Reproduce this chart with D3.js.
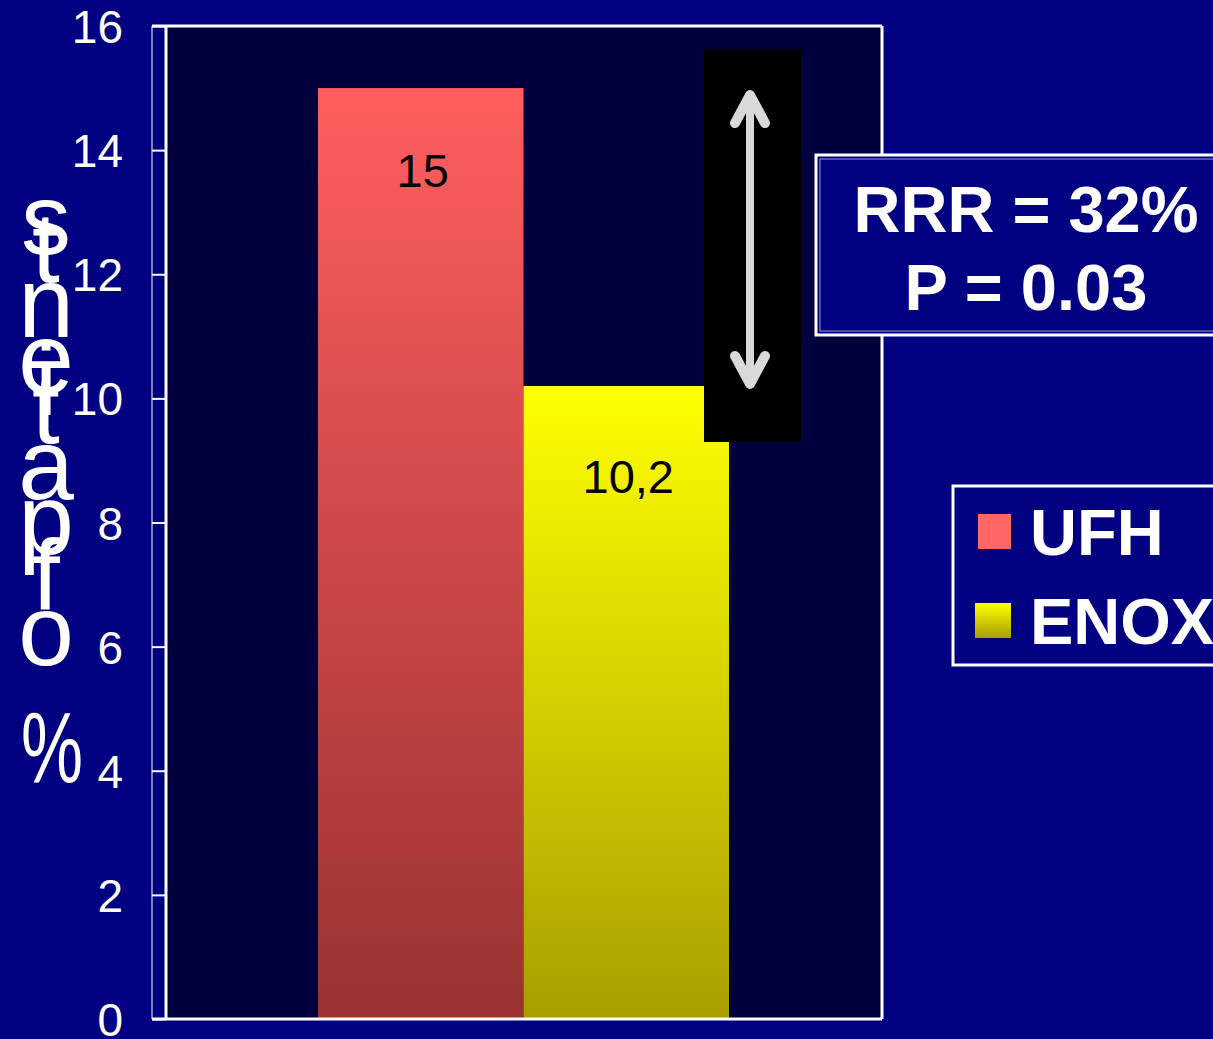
<!DOCTYPE html>
<html>
<head>
<meta charset="utf-8">
<script src="https://cdn.jsdelivr.net/npm/d3@7"></script>
<style>
  html, body { margin: 0; padding: 0; background: #000080; }
  svg { display: block; }
</style>
</head>
<body>
<svg id="chart" width="1213" height="1039"></svg>
<script>
// ---- data ----
const categories = ["UFH", "ENOX"];
const values = [15, 10.2];
const valueLabels = ["15", "10,2"];
const yTicks = [0, 2, 4, 6, 8, 10, 12, 14, 16];
const yLabel = "% of patients";
const statLines = ["RRR = 32%", "P = 0.03"];

// ---- layout ----
const W = 1213, H = 1039;
const FONT = "Arial, 'Liberation Sans', sans-serif";
const svg = d3.select("#chart");
const defs = svg.append("defs");

const plot = { left: 166, right: 882, top: 26, bottom: 1019, axisX: 152 };
const y = d3.scaleLinear().domain([0, 16]).range([plot.bottom, plot.top]);
const x = d3.scaleBand().domain(categories).range([318, 729]).padding(0);

// gradients
function vGrad(id, top, bottom) {
  const g = defs.append("linearGradient").attr("id", id)
    .attr("x1", 0).attr("y1", 0).attr("x2", 0).attr("y2", 1);
  g.append("stop").attr("offset", "0%").attr("stop-color", top);
  g.append("stop").attr("offset", "100%").attr("stop-color", bottom);
}
vGrad("gUFH", "#ff5e5e", "#9a3232");
vGrad("gENOX", "#ffff00", "#a89e00");
const fills = { UFH: "url(#gUFH)", ENOX: "url(#gENOX)" };

// background
svg.append("rect").attr("width", W).attr("height", H).attr("fill", "#000080");

// plot area
svg.append("rect")
  .attr("x", plot.left).attr("y", plot.top)
  .attr("width", plot.right - plot.left).attr("height", plot.bottom - plot.top)
  .attr("fill", "#00003c");

// axis wall line
svg.append("line")
  .attr("x1", plot.axisX).attr("x2", plot.axisX)
  .attr("y1", plot.top).attr("y2", plot.bottom)
  .attr("stroke", "#7f7fc4").attr("stroke-width", 2);

// y axis ticks + labels
const axis = d3.axisLeft(y).tickValues(yTicks).tickSize(plot.left - plot.axisX).tickPadding(29)
  .tickFormat(d3.format("d"));
const gAxis = svg.append("g").attr("transform", `translate(${plot.left},0)`).call(axis);
gAxis.select(".domain").remove();
gAxis.selectAll(".tick line").attr("stroke", "#ffffff").attr("stroke-width", 2);
gAxis.selectAll(".tick text")
  .attr("fill", "#ffffff").style("font-family", FONT).style("font-size", "46px")
  .attr("dy", "0.36em");

// bars
svg.selectAll("rect.bar").data(categories).enter().append("rect")
  .attr("class", "bar")
  .attr("x", d => x(d))
  .attr("width", x.bandwidth())
  .attr("y", (d, i) => y(values[i]))
  .attr("height", (d, i) => y(0) - y(values[i]))
  .attr("fill", d => fills[d]);

// value labels
svg.selectAll("text.val").data(categories).enter().append("text")
  .attr("class", "val")
  .attr("x", d => x(d) + x.bandwidth() / 2 + 2)
  .attr("y", (d, i) => y(values[i]) + (i === 0 ? 99 : 107))
  .attr("text-anchor", "middle")
  .attr("fill", "#000000")
  .style("font-family", FONT).style("font-size", "47px")
  .text((d, i) => valueLabels[i]);

// plot border (white)
const border = svg.append("g").attr("stroke", "#ffffff").attr("stroke-width", 3).attr("fill", "none");
border.append("line").attr("x1", plot.axisX).attr("x2", plot.right).attr("y1", plot.top).attr("y2", plot.top);
border.append("line").attr("x1", plot.axisX).attr("x2", plot.right).attr("y1", plot.bottom).attr("y2", plot.bottom);
border.append("line").attr("x1", plot.left).attr("x2", plot.left).attr("y1", plot.top).attr("y2", plot.bottom);
border.append("line").attr("x1", plot.right).attr("x2", plot.right).attr("y1", plot.top).attr("y2", plot.bottom);

// black annotation box with double arrow
svg.append("rect").attr("x", 704).attr("y", 49).attr("width", 97).attr("height", 393).attr("fill", "#000000");
const ax = 750, aTop = y(values[0]) + 3, aBot = y(values[1]) + 2;
const arrow = svg.append("g").attr("fill", "none").attr("stroke", "#d9d9d9").attr("stroke-linecap", "round").attr("stroke-linejoin", "round");
arrow.append("line").attr("x1", ax).attr("x2", ax).attr("y1", aTop + 6).attr("y2", aBot - 6).attr("stroke-width", 8);
arrow.append("path").attr("d", `M${ax - 15},${aTop + 32} L${ax},${aTop + 4} L${ax + 15},${aTop + 32}`).attr("stroke-width", 10);
arrow.append("path").attr("d", `M${ax - 15},${aBot - 32} L${ax},${aBot - 4} L${ax + 15},${aBot - 32}`).attr("stroke-width", 10);

// RRR box
svg.append("rect").attr("x", 816).attr("y", 155).attr("width", 420).attr("height", 180)
  .attr("fill", "#000080").attr("stroke", "#ffffff").attr("stroke-width", 3);
svg.append("rect").attr("x", 820).attr("y", 159).attr("width", 420).attr("height", 172)
  .attr("fill", "none").attr("stroke", "#9a9ad8").attr("stroke-width", 1);
svg.selectAll("text.stat").data(statLines).enter().append("text")
  .attr("class", "stat")
  .attr("x", 1026).attr("y", (d, i) => 232 + i * 78)
  .attr("text-anchor", "middle").attr("fill", "#ffffff")
  .style("font-family", FONT).style("font-size", "65px").style("font-weight", "bold")
  .text(d => d);

// legend
svg.append("rect").attr("x", 953).attr("y", 486).attr("width", 280).attr("height", 179)
  .attr("fill", "#000080").attr("stroke", "#ffffff").attr("stroke-width", 3);
const leg = svg.selectAll("g.leg").data(categories).enter().append("g").attr("class", "leg")
  .attr("transform", (d, i) => `translate(0,${i * 89})`);
leg.append("rect").attr("x", (d, i) => i === 0 ? 978 : 975).attr("y", 514)
  .attr("width", (d, i) => i === 0 ? 33 : 36).attr("height", 35)
  .attr("fill", d => d === "UFH" ? "#ff6666" : fills[d]);
leg.append("text").attr("x", 1030).attr("y", 555).attr("fill", "#ffffff")
  .style("font-family", FONT).style("font-size", "65px").style("font-weight", "bold")
  .text(d => d);

// y-axis title: upright glyphs stacked bottom-to-top along advance widths
const LF = 100;
const ctx = document.createElement("canvas").getContext("2d");
ctx.font = `${LF}px 'Liberation Sans', Arial, sans-serif`;
let cum = 0;
const glyphs = [];
for (const c of yLabel) {
  glyphs.push({ c, pos: cum });
  cum += ctx.measureText(c).width;
}
const gl = svg.append("g").selectAll("text").data(glyphs.filter(g => g.c !== " ")).enter().append("text")
  .attr("x", g => g.c === "%" ? 52 : 46).attr("y", g => 782 - g.pos)
  .attr("text-anchor", "middle").attr("fill", "#ffffff")
  .style("font-family", FONT).style("font-size", LF + "px")
  .text(g => g.c);
gl.filter(g => g.c === "%").attr("textLength", 62).attr("lengthAdjust", "spacingAndGlyphs");
</script>
</body>
</html>
